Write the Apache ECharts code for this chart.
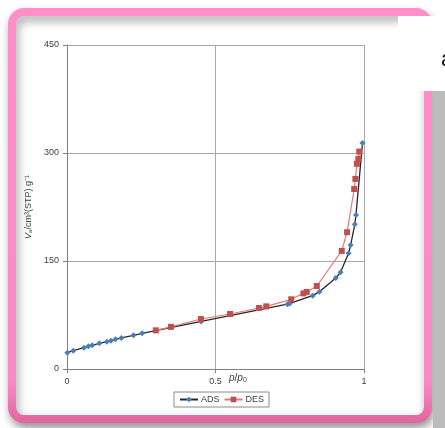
<!DOCTYPE html>
<html>
<head>
<meta charset="utf-8">
<script src="https://cdn.jsdelivr.net/npm/echarts@6/dist/echarts.min.js"></script>
<style>
html,body{margin:0;padding:0;background:#fff;}
#chart{width:445px;height:428px;}
</style>
</head>
<body>
<div id="chart"></div>
<script>
// Adsorption branch (p/p0, V)
const adsP = [0.001,0.021,0.057,0.072,0.085,0.109,0.134,0.148,0.163,0.183,0.224,0.253,0.452,0.742,0.750,0.827,0.850,0.905,0.921,0.948,0.955,0.969,0.973,0.995];
const adsV = [22.6,25.4,29.6,31.5,32.9,35.7,37.9,39.3,41.2,43.1,46.8,49.6,66.0,90.0,91.0,101.9,107.4,126.4,134.3,160.6,172.2,201.0,214.0,314.0];
// Desorption branch (p/p0, V)
const desP = [0.984,0.981,0.976,0.971,0.967,0.943,0.925,0.841,0.807,0.796,0.755,0.671,0.646,0.549,0.451,0.350,0.299];
const desV = [302.0,292.0,285.0,264.0,250.0,190.0,164.0,115.3,107.0,105.0,96.8,87.0,84.7,76.4,69.4,58.5,53.7];
const xTicks = ['0','0.5','1'];
const yTicks = ['0','150','300','450'];

const chart = echarts.init(document.getElementById('chart'));
const font = '"Liberation Sans", Arial, sans-serif';
chart.setOption({
  animation: false,
  backgroundColor: '#ffffff',
  graphic: [
    { type: 'rect', z: 0, shape: { x: 12, y: 12, width: 416, height: 407, r: 12 },
      style: { fill: '#ffffff', lineWidth: 8,
        stroke: { type: 'linear', x: 0, y: 0, x2: 0, y2: 1,
          colorStops: [{ offset: 0, color: '#ff8fc6' }, { offset: 0.9, color: '#f98bc2' }, { offset: 1, color: '#e2649f' }] },
        shadowBlur: 10, shadowColor: 'rgba(0,0,0,0.35)', shadowOffsetY: 5, shadowOffsetX: 2 } },
    { type: 'rect', z: 1, shape: { x: 398, y: 16, width: 47, height: 75 }, style: { fill: '#ffffff' } },
    { type: 'rect', z: 1, shape: { x: 433, y: 91, width: 12, height: 337 }, style: { fill: '#bcbcbc' } },
    { type: 'text', z: 1, style: { text: 'a', x: 441, y: 49, fontSize: 22, fontFamily: font, fill: '#111' } },
    { type: 'text', z: 5, style: {
        text: '{i|p}{n|/}{i|p}{s|0}', x: 229, y: 372,
        rich: {
          i: { fontStyle: 'italic', fontSize: 10, fontFamily: font, fill: '#404040' },
          n: { fontSize: 10, fontFamily: font, fill: '#404040' },
          s: { fontSize: 7, fontFamily: font, fill: '#404040', padding: [5, 0, 0, 0] }
        } } }
  ],
  grid: { left: 67, top: 45, width: 297, height: 324, show: true, backgroundColor: '#c0c0c0', borderColor: '#6e6e6e', borderWidth: 1 },
  legend: {
    left: 174, top: 392, orient: 'horizontal',
    padding: [3, 5, 3, 5], borderColor: '#8a8a8a', borderWidth: 1,
    itemWidth: 18, itemHeight: 7, itemGap: 4,
    textStyle: { fontSize: 9, fontFamily: font, color: '#404040', padding: [0, 0, 0, -2] },
    data: ['ADS', 'DES']
  },
  xAxis: {
    type: 'value', min: 0, max: 1, interval: 0.5,
    axisLine: { show: true, lineStyle: { color: '#808080' } },
    axisTick: { show: true, length: 4, lineStyle: { color: '#808080' } },
    axisLabel: { fontSize: 9, fontFamily: font, color: '#404040', margin: 8,
      formatter: v => xTicks[Math.round(v / 0.5)] },
    splitLine: { show: true, lineStyle: { color: '#a8a8a8', width: 1 } }
  },
  yAxis: {
    type: 'value', min: 0, max: 450, interval: 150,
    axisLine: { show: true, lineStyle: { color: '#808080' } },
    axisTick: { show: true, length: 4, lineStyle: { color: '#808080' } },
    axisLabel: { fontSize: 9, fontFamily: font, color: '#404040', margin: 8,
      formatter: v => yTicks[Math.round(v / 150)] },
    splitLine: { show: true, lineStyle: { color: '#a8a8a8', width: 1 } },
    name: '{i|V}{s|a}{n|/cm³(STP) g⁻¹}',
    nameLocation: 'middle', nameGap: 30, nameRotate: 90,
    nameTextStyle: {
      rich: {
        i: { fontStyle: 'italic', fontSize: 9, fontFamily: font, color: '#404040' },
        s: { fontSize: 6, fontFamily: font, color: '#404040', padding: [4, 0, 0, 0] },
        n: { fontSize: 9, fontFamily: font, color: '#404040' }
      }
    }
  },
  series: [
    { name: 'ADS', type: 'line', z: 3,
      data: adsP.map((p, i) => [p, adsV[i]]),
      symbol: 'diamond', symbolSize: 6,
      itemStyle: { color: '#4a7ebb' },
      lineStyle: { color: '#262626', width: 1.3 } },
    { name: 'DES', type: 'line', z: 4,
      data: desP.map((p, i) => [p, desV[i]]),
      symbol: 'rect', symbolSize: 6,
      itemStyle: { color: '#c0504d' },
      lineStyle: { color: '#e07b79', width: 1.2 } }
  ]
});
</script>
</body>
</html>
